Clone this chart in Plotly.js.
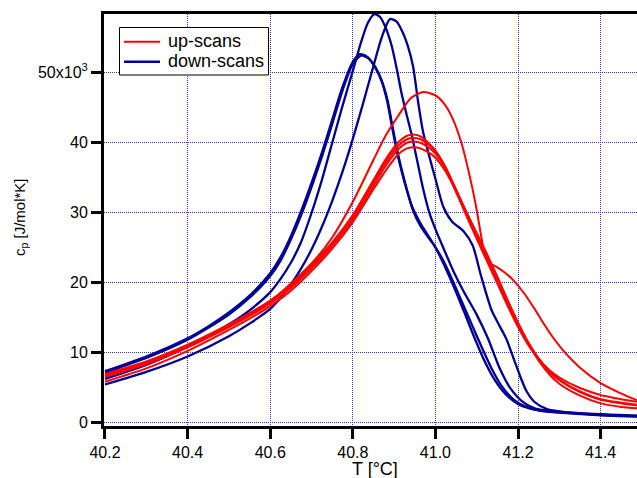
<!DOCTYPE html>
<html>
<head>
<meta charset="utf-8">
<script src="https://cdn.plot.ly/plotly-3.0.1.min.js"></script>
<style>
  html, body { margin: 0; padding: 0; background: #ffffff; }
  #chart { width: 637px; height: 478px; }
</style>
</head>
<body>
<div id="chart"></div>
<script>
// Heat capacity scans through the lipid main transition: c_p (J/mol*K) against T (°C).

// ---- down-scans (cooling) ----
const downA1T  = [40.20, 40.30, 40.40, 40.45, 40.50, 40.55, 40.60, 40.625, 40.65, 40.675, 40.70, 40.725, 40.75, 40.775, 40.80, 40.817, 40.835, 40.852, 40.868, 40.882, 40.894, 40.906, 40.918, 40.93, 40.943, 40.963, 40.98, 41.00, 41.02, 41.045, 41.068, 41.095, 41.12, 41.145, 41.17, 41.20, 41.23, 41.27, 41.33, 41.40, 41.49];
const downA1Cp = [7300, 9400, 12000, 13700, 15700, 18100, 21300, 23600, 26600, 30200, 34200, 38500, 43200, 47900, 51500, 52600, 52200, 50900, 49000, 46200, 42500, 38900, 35900, 33300, 30900, 28500, 26900, 25000, 22600, 19300, 16000, 12000, 8600, 5900, 4000, 2600, 1950, 1550, 1300, 1050, 850];

const downA2T  = [40.20, 40.30, 40.40, 40.45, 40.50, 40.55, 40.60, 40.625, 40.65, 40.675, 40.70, 40.725, 40.75, 40.775, 40.80, 40.82, 40.838, 40.855, 40.87, 40.884, 40.896, 40.908, 40.92, 40.932, 40.945, 40.965, 40.983, 41.00, 41.02, 41.045, 41.07, 41.09, 41.11, 41.135, 41.16, 41.19, 41.22, 41.26, 41.32, 41.40, 41.49];
const downA2Cp = [7100, 9200, 11800, 13500, 15400, 17800, 20900, 23100, 26100, 29600, 33600, 37900, 42600, 47400, 51200, 52400, 52000, 50700, 48800, 46000, 42300, 38700, 35700, 33000, 30400, 27900, 26400, 25000, 23000, 19800, 16400, 13700, 11000, 7800, 5200, 3200, 2200, 1600, 1300, 1000, 820];

const downBT   = [40.20, 40.30, 40.40, 40.45, 40.50, 40.55, 40.60, 40.625, 40.65, 40.675, 40.70, 40.725, 40.75, 40.775, 40.80, 40.82, 40.836, 40.852, 40.866, 40.88, 40.894, 40.906, 40.918, 40.93, 40.942, 40.955, 40.97, 40.985, 41.00, 41.02, 41.045, 41.07, 41.098, 41.127, 41.155, 41.18, 41.21, 41.24, 41.28, 41.33, 41.40, 41.49];
const downBCp  = [6200, 8200, 10800, 12300, 14000, 16000, 18600, 20500, 22800, 25800, 29900, 34600, 39900, 45200, 50200, 54300, 57000, 58300, 57900, 56300, 53800, 50600, 47000, 44000, 41200, 37600, 33400, 30000, 27600, 24800, 21400, 18500, 15600, 12000, 7800, 5000, 3000, 2000, 1600, 1350, 1100, 900];

const downCT   = [40.20, 40.30, 40.40, 40.50, 40.55, 40.60, 40.625, 40.65, 40.675, 40.70, 40.725, 40.75, 40.775, 40.80, 40.825, 40.85, 40.87, 40.89, 40.905, 40.92, 40.934, 40.946, 40.958, 40.97, 40.985, 41.00, 41.019, 41.04, 41.068, 41.09, 41.11, 41.136, 41.155, 41.171, 41.19, 41.205, 41.22, 41.24, 41.27, 41.31, 41.40, 41.49];
const downCCp  = [5400, 7200, 9400, 12300, 14100, 16200, 17800, 19700, 22000, 24700, 27900, 31600, 35800, 40500, 45600, 50900, 55000, 57600, 57300, 55800, 53600, 50800, 45800, 41500, 38000, 34800, 30800, 28700, 27300, 25300, 21000, 16000, 13800, 12000, 9000, 6600, 4500, 2900, 1900, 1500, 1150, 950];

// ---- up-scans (heating) ----
const upT    = [40.20, 40.30, 40.40, 40.50, 40.55, 40.60, 40.65, 40.70, 40.75, 40.80, 40.85, 40.88, 40.91, 40.93, 40.948, 40.965, 40.985, 41.00, 41.025, 41.05, 41.075, 41.10, 41.125, 41.15, 41.175, 41.20, 41.225, 41.25, 41.275, 41.30, 41.35, 41.40, 41.45, 41.49];
const upR1Cp = [6900, 8700, 11100, 14000, 15600, 17400, 19600, 22500, 25700, 29600, 34600, 37600, 40000, 40900, 41100, 40800, 39800, 38800, 36300, 32900, 29500, 26200, 23000, 19800, 16600, 13600, 11000, 9000, 7500, 6400, 4900, 3900, 3300, 2900];
const upR2Cp = [6700, 8500, 10900, 13800, 15400, 17200, 19400, 22300, 25500, 29400, 34300, 37200, 39500, 40400, 40600, 40400, 39600, 38700, 36400, 33200, 29900, 26700, 23500, 20300, 17000, 14000, 11300, 9100, 7400, 6100, 4400, 3300, 2800, 2500];
const upR3Cp = [6500, 8300, 10700, 13600, 15200, 17000, 19200, 22000, 25200, 29000, 33800, 36700, 39000, 39900, 40100, 39900, 39200, 38400, 36200, 33200, 30000, 26900, 23800, 20600, 17300, 14200, 11400, 9100, 7300, 6000, 4300, 3200, 2700, 2400];
const upR4Cp = [5800, 7700, 10200, 13200, 14800, 16600, 18800, 21600, 24800, 28600, 33300, 36000, 38300, 39100, 39300, 39100, 38500, 37800, 35800, 33000, 30000, 27000, 24000, 20800, 17400, 14200, 11300, 8800, 6900, 5500, 3800, 2700, 2200, 2000];

const upR5T  = [40.20, 40.30, 40.40, 40.50, 40.60, 40.70, 40.75, 40.80, 40.85, 40.88, 40.91, 40.94, 40.97, 41.00, 41.02, 41.04, 41.063, 41.087, 41.10, 41.111, 41.12, 41.13, 41.148, 41.17, 41.19, 41.215, 41.24, 41.26, 41.28, 41.31, 41.35, 41.40, 41.45, 41.49];
const upR5Cp = [6600, 8500, 10900, 13900, 17300, 22700, 26400, 31500, 37500, 41000, 43800, 46300, 47200, 46700, 45600, 43600, 39900, 34100, 30300, 26500, 23800, 22800, 22200, 21300, 20200, 18400, 16200, 14300, 12500, 10200, 7800, 5600, 4100, 3100];

// axis ticks
const xTicks = [40.2, 40.4, 40.6, 40.8, 41.0, 41.2, 41.4];
const xTickText = ['40.2', '40.4', '40.6', '40.8', '41.0', '41.2', '41.4'];
const yTicks = [0, 10000, 20000, 30000, 40000, 50000];
const yTickText = ['0', '10', '20', '30', '40', '50x10<sup>3</sup>'];

const RED = '#ff0000';
const BLUE = '#000099';
const FONT = 'Liberation Sans, Arial, Helvetica, sans-serif';

const down = [[downA1T, downA1Cp], [downA2T, downA2Cp], [downBT, downBCp], [downCT, downCCp]];
const up = [[upT, upR1Cp], [upT, upR2Cp], [upT, upR3Cp], [upT, upR4Cp], [upR5T, upR5Cp]];

function scan(pair, color, width, name) {
  return {
    x: pair[0], y: pair[1], type: 'scatter', mode: 'lines', name: name,
    line: { color: color, width: width, shape: 'spline', smoothing: 0.7 },
    showlegend: false, hoverinfo: 'skip'
  };
}

const traces = [];
down.forEach(p => traces.push(scan(p, BLUE, 2.3, 'down-scans')));
up.forEach(p => traces.push(scan(p, RED, 2.0, 'up-scans')));

// page geometry (pixels)
const W = 637, H = 478;
const M = { l: 104, r: 0, t: 14, b: 52 };
const PW = W - M.l - M.r, PH = H - M.t - M.b;
const px = v => (v - M.l) / PW;          // pixel column -> paper x
const py = v => (H - M.b - v) / PH;      // pixel row -> paper y

const layout = {
  width: W, height: H,
  margin: M,
  paper_bgcolor: '#ffffff', plot_bgcolor: '#ffffff',
  font: { family: FONT, size: 16, color: '#000000' },
  xaxis: {
    range: [40.1976, 41.488],
    tickvals: xTicks, ticktext: xTickText,
    ticks: 'outside', ticklen: 10, tickwidth: 3, tickcolor: '#000000',
    showline: true, linewidth: 3, linecolor: '#000000', mirror: true,
    showgrid: true, gridcolor: '#3a3acc', gridwidth: 1, griddash: '1px,1px',
    zeroline: false,
    tickfont: { family: FONT, size: 16, color: '#000000' }
  },
  yaxis: {
    range: [-530, 58330],
    tickvals: yTicks, ticktext: yTickText,
    ticks: 'outside', ticklen: 10, tickwidth: 3, tickcolor: '#000000',
    showline: true, linewidth: 3, linecolor: '#000000', mirror: false,
    showgrid: true, gridcolor: '#3a3acc', gridwidth: 1, griddash: '1px,1px',
    zeroline: false,
    tickfont: { family: FONT, size: 16, color: '#000000' }
  },
  shapes: [
    { type: 'rect', xref: 'paper', yref: 'paper', x0: px(119.5), x1: px(268.5), y0: py(75), y1: py(27.5),
      line: { color: '#000000', width: 1 }, fillcolor: '#ffffff', layer: 'above' },
    { type: 'line', xref: 'paper', yref: 'paper', x0: px(124), x1: px(160), y0: py(41.7), y1: py(41.7),
      line: { color: RED, width: 2 }, layer: 'above' },
    { type: 'line', xref: 'paper', yref: 'paper', x0: px(124), x1: px(160), y0: py(61.7), y1: py(61.7),
      line: { color: BLUE, width: 2.5 }, layer: 'above' }
  ],
  annotations: [
    { text: 'up-scans', xref: 'paper', yref: 'paper', x: px(166), y: py(41), xanchor: 'left', yanchor: 'middle',
      showarrow: false, font: { family: FONT, size: 18, color: '#000000' } },
    { text: 'down-scans', xref: 'paper', yref: 'paper', x: px(166), y: py(61), xanchor: 'left', yanchor: 'middle',
      showarrow: false, font: { family: FONT, size: 18, color: '#000000' } },
    { text: 'c<sub>p</sub> [J/mol*K]', xref: 'paper', yref: 'paper', x: px(20), y: py(217), xanchor: 'center', yanchor: 'middle',
      textangle: -90, showarrow: false, font: { family: FONT, size: 15, color: '#000000' } },
    { text: 'T [°C]', xref: 'paper', yref: 'paper', x: px(375), y: py(469), xanchor: 'center', yanchor: 'middle',
      showarrow: false, font: { family: FONT, size: 18, color: '#000000' } }
  ]
};

Plotly.newPlot('chart', traces, layout, { displayModeBar: false, staticPlot: true });
</script>
</body>
</html>
